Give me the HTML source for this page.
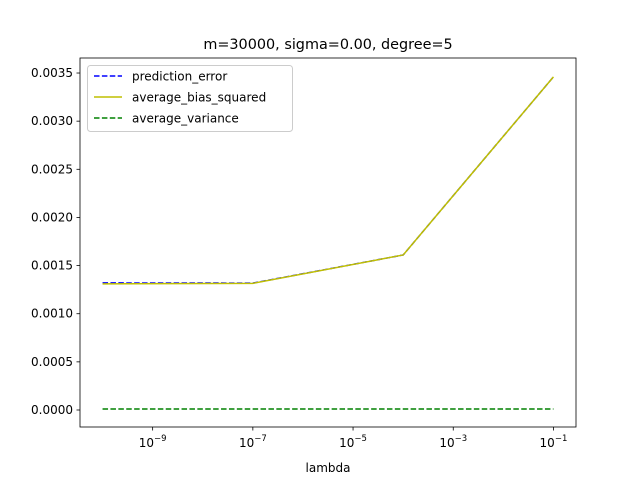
<!DOCTYPE html>
<html><head><meta charset="utf-8"><style>
body{margin:0;background:#fff;}
svg text{font-family:"DejaVu Sans","Liberation Sans",sans-serif;fill:#000;}
</style></head><body>
<svg id="chart" width="640" height="480" xmlns="http://www.w3.org/2000/svg">
<rect width="640" height="480" fill="#fff"/>
<text x="328" y="49" font-size="14.4" text-anchor="middle">m=30000, sigma=0.00, degree=5</text>
<g id="plot"></g>
<text x="328" y="472" font-size="12" text-anchor="middle">lambda</text>
</svg>
<script>
const lambdas=[1e-10,1e-7,1e-4,1e-1];
const predictionError=[0.00132,0.001318,0.00161,0.00346];
const biasSquared=[0.00131,0.001315,0.00161,0.00346];
const variance=[0.00001,0.00001,0.00001,0.00001];
const yTicks=[0,0.0005,0.001,0.0015,0.002,0.0025,0.003,0.0035];
const yTickLabels=["0.0000","0.0005","0.0010","0.0015","0.0020","0.0025","0.0030","0.0035"];
const xTickExps=[-9,-7,-5,-3,-1];

const L=80,T=58,W=496,H=369;
const xmin=-10.45,xmax=-0.55,ymin=-0.0001766,ymax=0.003656;
const sx=v=>L+(Math.log10(v)-xmin)/(xmax-xmin)*W;
const sy=v=>T+H-(v-ymin)/(ymax-ymin)*H;
const NS="http://www.w3.org/2000/svg";
const g=document.getElementById('plot');
function mk(tag,attrs){const e=document.createElementNS(NS,tag);for(const k in attrs)e.setAttribute(k,attrs[k]);g.appendChild(e);return e;}
function series(vals,color,dash,name){
  const p=mk('polyline',{points:lambdas.map((l,i)=>sx(l)+','+sy(vals[i])).join(' '),fill:'none',stroke:color,'stroke-width':1.5,'stroke-dasharray':dash});
  
  
}
series(predictionError,'#0000ff','5.5,2.4','line-prediction-error');
series(biasSquared,'#bfbf00','none','line-average-bias-squared');
series(variance,'#008000','5.5,2.4','line-average-variance');
const frame=mk('rect',{x:L,y:T,width:W,height:H,fill:'none',stroke:'#000','stroke-width':0.8});


yTicks.forEach((v,i)=>{
  const y=sy(v);
  const t=mk('line',{x1:L-3.5,x2:L,y1:y,y2:y,stroke:'#000','stroke-width':0.8});
  
  
  const tx=mk('text',{x:L-7,y:y+4,'font-size':12,'text-anchor':'end'});
  tx.textContent=yTickLabels[i];
  
  
});
xTickExps.forEach(e=>{
  const x=sx(Math.pow(10,e));
  const t=mk('line',{x1:x,x2:x,y1:T+H,y2:T+H+3.5,stroke:'#000','stroke-width':0.8});
  
  
  const tx=mk('text',{x:x,y:447,'font-size':12,'text-anchor':'middle'});
  tx.innerHTML='10<tspan dy="-6" font-size="8.5">\u2212'+Math.abs(e)+'</tspan>';
  
  
});
const lg=mk('rect',{x:87.5,y:65.5,width:205,height:66,rx:3,fill:'#fff','fill-opacity':0.8,stroke:'#ccc','stroke-width':1});


[['prediction_error','#0000ff','5.5,2.4'],['average_bias_squared','#bfbf00','none'],['average_variance','#008000','5.5,2.4']].forEach((d,i)=>{
  const y=76+i*21;
  const l=mk('line',{x1:94,x2:122,y1:y,y2:y,stroke:d[1],'stroke-width':1.5,'stroke-dasharray':d[2]});
  
  
  const t=mk('text',{x:132,y:y+4.5,'font-size':12});
  t.textContent=d[0];
  
  
});
</script>
</body></html>
